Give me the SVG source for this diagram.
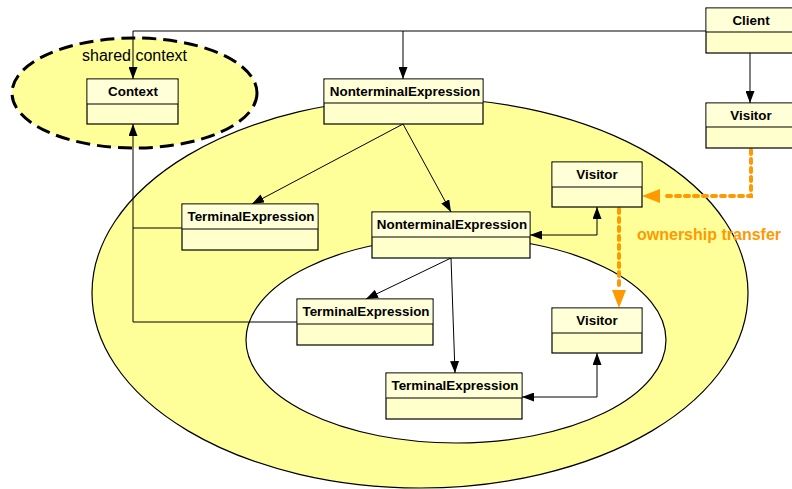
<svg xmlns="http://www.w3.org/2000/svg" width="792" height="489" viewBox="0 0 792 489">
  <style>
    .box { fill: #ffffcc; stroke: #000; stroke-width: 1.2; }
    .hdr { fill: #ffffd8; stroke: none; }
    .div { stroke: #000; stroke-width: 1.2; }
    .lbl { font-family: "Liberation Sans", Arial, sans-serif; font-size: 13.4px; font-weight: bold; text-anchor: middle; fill: #000; }
    .edge { fill: none; stroke: #000; stroke-width: 1; }
    .transfer { fill: none; stroke: #ff9900; stroke-width: 4; stroke-dasharray: 4 5; stroke-linecap: round; }
  </style>
  <defs>
    <marker id="arr" viewBox="0 0 12 9" refX="12" refY="4.5" markerWidth="12" markerHeight="9" markerUnits="userSpaceOnUse" orient="auto-start-reverse">
      <path d="M0,0 L12,4.5 L0,9 Z" fill="#000"/>
    </marker>
    <marker id="arrO" viewBox="0 0 18 14" refX="18" refY="7" markerWidth="18" markerHeight="14" markerUnits="userSpaceOnUse" orient="auto">
      <path d="M0,0 L18,7 L0,14 Z" fill="#ff9900"/>
    </marker>
  </defs>

  <rect width="792" height="489" fill="#fff"/>

  <!-- scopes -->
  <g id="outer-scope">
    <ellipse cx="420" cy="293" rx="328" ry="195" fill="#ffff99" stroke="#000" stroke-width="1.2"/>
  </g>
  <g id="inner-scope">
    <ellipse cx="456" cy="340" rx="210" ry="103" fill="#fff" stroke="#000" stroke-width="1.2"/>
  </g>
  <g id="shared-context">
    <ellipse cx="134.5" cy="93" rx="122.5" ry="55" fill="#ffff99" stroke="#000" stroke-width="3" stroke-dasharray="14 7"/>
    <text x="134.5" y="61" font-family="Liberation Sans, Arial, sans-serif" font-size="16" text-anchor="middle">shared context</text>
  </g>

  <!-- connectors -->
  <g id="connectors">
    <path class="edge" d="M706,31 H133 V79" marker-end="url(#arr)"/>
    <path class="edge" d="M403,31 V79" marker-end="url(#arr)"/>
    <path class="edge" d="M750,53 V103" marker-end="url(#arr)"/>
    <path class="edge" d="M403,124 L252,204" marker-end="url(#arr)"/>
    <path class="edge" d="M403,124 L451,212" marker-end="url(#arr)"/>
    <path class="edge" d="M182,228 H133"/>
    <path class="edge" d="M297,322 H133 V124" marker-end="url(#arr)"/>
    <path class="edge" d="M451,258 L366,299" marker-end="url(#arr)"/>
    <path class="edge" d="M451,258 L455,373" marker-end="url(#arr)"/>
    <path class="edge" d="M530,235 H597 V207" marker-start="url(#arr)" marker-end="url(#arr)"/>
    <path class="edge" d="M522,397 H597 V353" marker-start="url(#arr)" marker-end="url(#arr)"/>
    <path class="transfer" d="M751,150 V196 H662"/>
    <path d="M662,196 H642" stroke="none" fill="none" marker-end="url(#arrO)"/>
    <path class="transfer" d="M619,209 V288"/>
    <path d="M619,288 V308" stroke="none" fill="none" marker-end="url(#arrO)"/>
    <text x="709" y="240" font-family="Liberation Sans, Arial, sans-serif" font-size="16" font-weight="bold" fill="#ff9900" text-anchor="middle">ownership transfer</text>
  </g>

  <!-- nodes -->
  <g id="client">
    <rect class="box" x="706" y="8" width="96" height="45"/>
    <rect class="hdr" x="706.6" y="8.6" width="95" height="23"/>
    <line class="div" x1="706" y1="32" x2="802" y2="32"/>
    <text class="lbl" x="751" y="25">Client</text>
  </g>
  <g id="visitor-top">
    <rect class="box" x="706" y="103" width="96" height="45"/>
    <rect class="hdr" x="706.6" y="103.6" width="95" height="23"/>
    <line class="div" x1="706" y1="127" x2="802" y2="127"/>
    <text class="lbl" x="751" y="120">Visitor</text>
  </g>
  <g id="context">
    <rect class="box" x="87" y="79" width="91" height="45"/>
    <rect class="hdr" x="87.6" y="79.6" width="89.8" height="24"/>
    <line class="div" x1="87" y1="104" x2="178" y2="104"/>
    <text class="lbl" x="133" y="96">Context</text>
  </g>
  <g id="nonterminal-outer">
    <rect class="box" x="324" y="79" width="159" height="45"/>
    <rect class="hdr" x="324.6" y="79.6" width="157.8" height="23.4"/>
    <line class="div" x1="324" y1="103" x2="483" y2="103"/>
    <text class="lbl" x="405" y="96">NonterminalExpression</text>
  </g>
  <g id="terminal-outer">
    <rect class="box" x="182" y="204" width="136" height="46"/>
    <rect class="hdr" x="182.6" y="204.6" width="134.8" height="24.4"/>
    <line class="div" x1="182" y1="229" x2="318" y2="229"/>
    <text class="lbl" x="251" y="221">TerminalExpression</text>
  </g>
  <g id="visitor-middle">
    <rect class="box" x="552" y="162" width="90" height="45"/>
    <rect class="hdr" x="552.6" y="162.6" width="88.8" height="24.4"/>
    <line class="div" x1="552" y1="187" x2="642" y2="187"/>
    <text class="lbl" x="597" y="179">Visitor</text>
  </g>
  <g id="nonterminal-inner">
    <rect class="box" x="372" y="212" width="158" height="46"/>
    <rect class="hdr" x="372.6" y="212.6" width="156.8" height="24.4"/>
    <line class="div" x1="372" y1="237" x2="530" y2="237"/>
    <text class="lbl" x="452" y="229">NonterminalExpression</text>
  </g>
  <g id="terminal-inner-a">
    <rect class="box" x="297" y="299" width="136" height="46"/>
    <rect class="hdr" x="297.6" y="299.6" width="134.8" height="24.4"/>
    <line class="div" x1="297" y1="324" x2="433" y2="324"/>
    <text class="lbl" x="366" y="316">TerminalExpression</text>
  </g>
  <g id="visitor-inner">
    <rect class="box" x="552" y="308" width="90" height="45"/>
    <rect class="hdr" x="552.6" y="308.6" width="88.8" height="24.4"/>
    <line class="div" x1="552" y1="333" x2="642" y2="333"/>
    <text class="lbl" x="597" y="325">Visitor</text>
  </g>
  <g id="terminal-inner-b">
    <rect class="box" x="386" y="373" width="136" height="46"/>
    <rect class="hdr" x="386.6" y="373.6" width="134.8" height="24.4"/>
    <line class="div" x1="386" y1="398" x2="522" y2="398"/>
    <text class="lbl" x="455" y="390">TerminalExpression</text>
  </g>
</svg>
